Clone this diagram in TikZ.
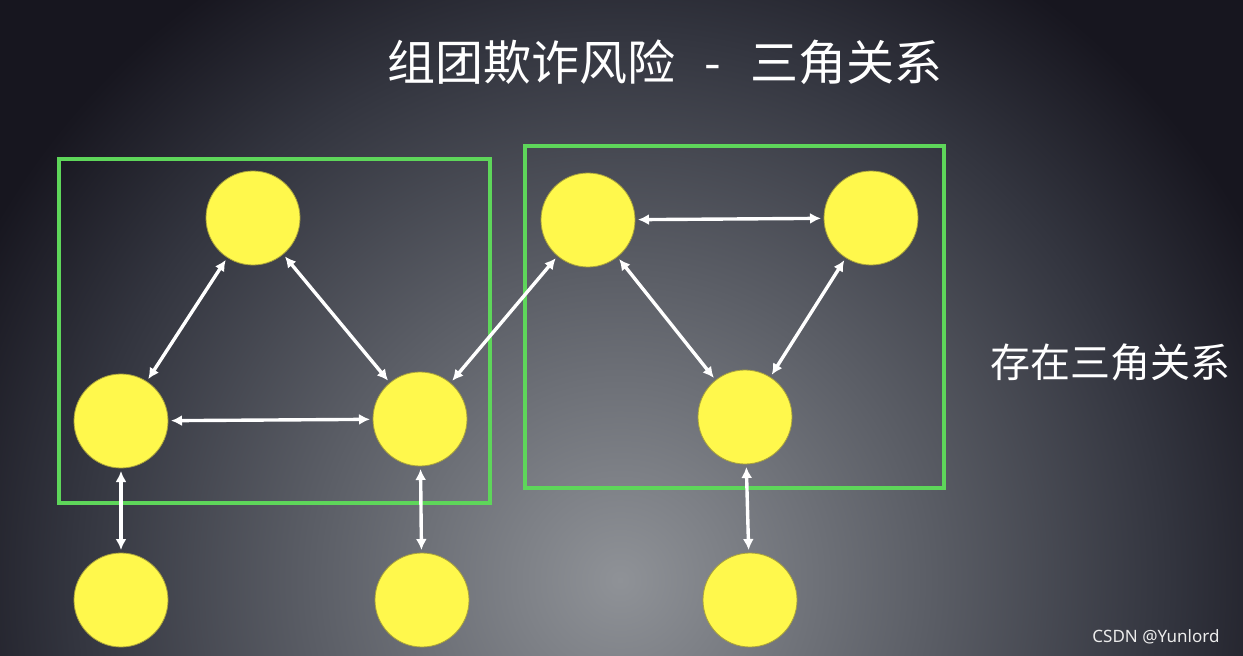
\documentclass[tikz,border=0pt]{standalone}
\usepackage{fontspec}
\usetikzlibrary{arrows.meta}
\newfontfamily\cjk{Noto Sans CJK SC}
\newfontfamily\markfont{Noto Sans}
\definecolor{bgdark}{HTML}{17161F}
\definecolor{bgdeep}{HTML}{33353F}
\definecolor{bgmid}{HTML}{5C5F67}
\definecolor{bglight}{HTML}{8F9297}
\definecolor{boxgreen}{HTML}{5ED65A}
\definecolor{dotyellow}{HTML}{FFF84C}
\definecolor{dotrim}{HTML}{A9A23C}
\pgfdeclareradialshading{glow}{\pgfpointorigin}{color(0bp)=(bglight); color(10.5bp)=(bgmid); color(19bp)=(bgdeep); color(25bp)=(bgdark); color(50bp)=(bgdark)}
\begin{document}
\begin{tikzpicture}[x=1pt, y=-1pt,
    dot/.style={circle, fill=dotyellow, draw=dotrim, line width=0.8pt, minimum size=94pt, inner sep=0pt, outer sep=3pt},
    link/.style={white, line width=3.4pt, {Latex[length=11pt,width=11pt]}-{Latex[length=11pt,width=11pt]}},
    group/.style={boxgreen, line width=3.6pt}]
  \useasboundingbox (0,0) rectangle (1243,656);
  % background
  \begin{scope}
    \clip (0,0) rectangle (1243,656);
    \fill[bgdark] (0,0) rectangle (1243,656);
    \shade[shading=glow] (620,580) circle (720);
  \end{scope}

  \node[text=white, font=\cjk\fontsize{48}{58}\selectfont] (title) at (665,62) {组团欺诈风险\hspace{0.6em}-\hspace{0.6em}三角关系};

  % the two groups
  \draw[group] (59,159) rectangle (490,503);
  \draw[group] (525,146) rectangle (944,488);

  % people
  \node[dot] (a) at (253,218) {};
  \node[dot] (b) at (121,421) {};
  \node[dot] (c) at (420,419) {};
  \node[dot] (d) at (588,220) {};
  \node[dot] (e) at (871,218) {};
  \node[dot] (f) at (745,417) {};
  \node[dot] (g) at (121,600) {};
  \node[dot] (h) at (422,600) {};
  \node[dot] (i) at (750,600) {};

  % relations
  \draw[link] (a) -- (b);
  \draw[link] (a) -- (c);
  \draw[link] (b) -- (c);
  \draw[link] (c) -- (d);
  \draw[link] (d) -- (e);
  \draw[link] (d) -- (f);
  \draw[link] (e) -- (f);
  \draw[link] (b) -- (g);
  \draw[link] (c) -- (h);
  \draw[link] (f) -- (i);

  \node[text=white, font=\cjk\fontsize{40}{48}\selectfont] (note) at (1110,362) {存在三角关系};
  \node[text=white!85!gray, font=\markfont\fontsize{17}{20}\selectfont] (mark) at (1156,637) {CSDN @Yunlord};
\end{tikzpicture}
\end{document}
